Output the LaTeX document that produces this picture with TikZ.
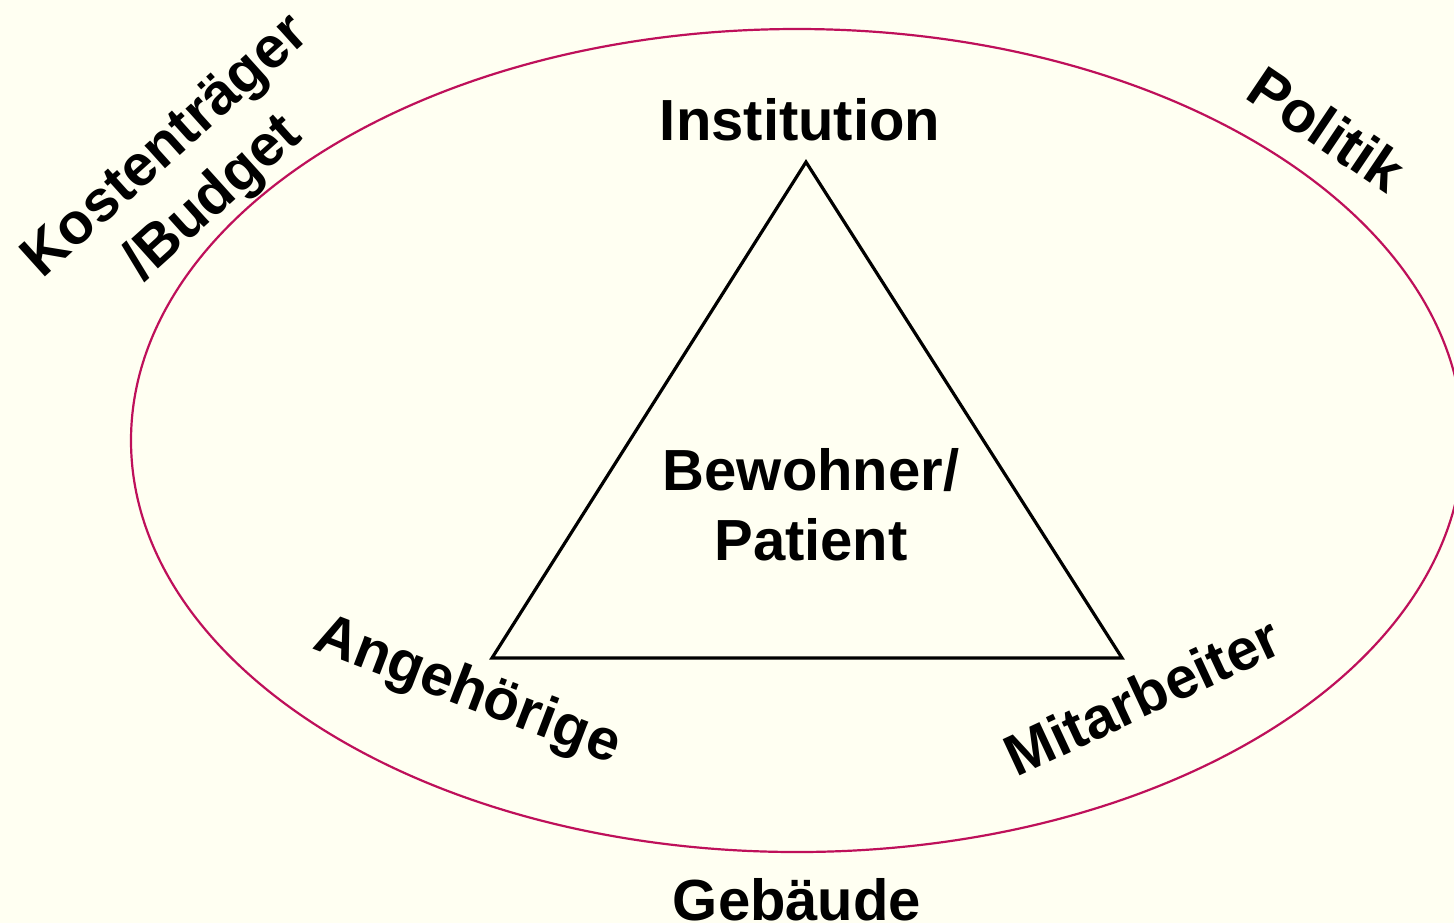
\documentclass[tikz,border=0pt]{standalone}
\usepackage{fontspec}
\setmainfont{Liberation Sans}
\definecolor{bgcream}{RGB}{255,255,242}
\definecolor{ellcol}{RGB}{190,16,90}
\begin{document}
\begin{tikzpicture}[x=0.5pt,y=-0.5pt,
  lbl/.style={font=\fontsize{29}{35}\selectfont\bfseries, text=black, align=center, inner sep=0pt}]
\fill[bgcream] (0,0) rectangle (1454,923);
\useasboundingbox (0,0) rectangle (1454,923);
\begin{scope}
\clip (0,0) rectangle (1454,923);
\draw[ellcol, line width=1.1pt] (797,440.5) ellipse [x radius=666, y radius=411.5];
\end{scope}
\coordinate (A) at (806,162);
\coordinate (B) at (492,658);
\coordinate (C) at (1122,658);
\draw[black, line width=1.6pt, line join=miter] (A) -- (B) -- (C) -- cycle;
\node[lbl] (inst) at (800,120) {Institution};
\node[lbl] (bew) at (811,505) {Bewohner/\\Patient};
\node[lbl] (geb) at (797,900) {Gebäude};
\node[lbl, rotate=42] (kost) at (191,174) {Kostenträger\\/Budget};
\node[lbl, rotate=-34] (pol) at (1327,129) {Politik};
\node[lbl, rotate=-21] (ang) at (467,692) {Angehörige};
\node[lbl, rotate=25] (mit) at (1142,696) {Mitarbeiter};
\end{tikzpicture}
\end{document}
